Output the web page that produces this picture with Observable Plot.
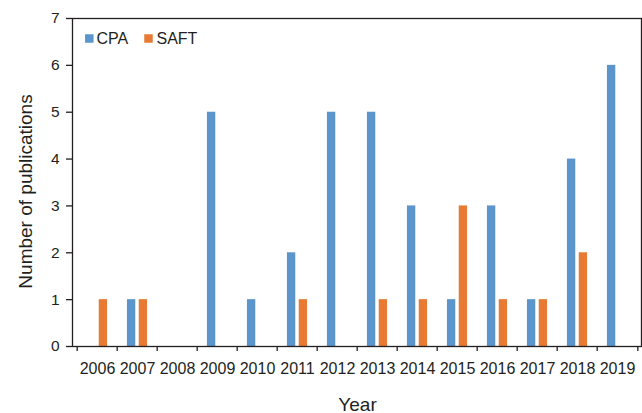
<!DOCTYPE html>
<html>
<head>
<meta charset="utf-8">
<script src="https://cdn.jsdelivr.net/npm/d3@7"></script>
<script src="https://cdn.jsdelivr.net/npm/@observablehq/plot@0.6"></script>
<style>
  html, body { margin: 0; padding: 0; background: #fff; }
  #chart { width: 642px; height: 413px; }
</style>
</head>
<body>
<div id="chart"></div>
<script>
const years = [2006, 2007, 2008, 2009, 2010, 2011, 2012, 2013, 2014, 2015, 2016, 2017, 2018, 2019];
const cpa  = [0, 1, 0, 5, 1, 2, 5, 5, 3, 1, 3, 1, 4, 6];
const saft = [1, 1, 0, 0, 0, 1, 0, 1, 1, 3, 1, 1, 2, 0];
const seriesNames = ["CPA", "SAFT"];
const yTicks = [0, 1, 2, 3, 4, 5, 6, 7];
const xTitle = "Year";
const yTitle = "Number of publications";

const colors = {CPA: "#5b95cb", SAFT: "#e87b33"};
const ink = "#231f20";
const cpaData = years.map((year, i) => ({year, value: cpa[i]}));
const saftData = years.map((year, i) => ({year, value: saft[i]}));

const W = 642, H = 413, mL = 72, mR = 1, mT = 18, mB = 67;
const halfBand = (W - mL - mR) / years.length / 2;

const chart = Plot.plot({
  width: W, height: H,
  marginLeft: mL, marginRight: mR, marginTop: mT, marginBottom: mB,
  style: {fontFamily: "'Liberation Sans', Arial, sans-serif", background: "#fff", color: ink, overflow: "visible"},
  x: {type: "band", domain: years, padding: 0, label: null},
  y: {domain: [0, 7], label: null},
  marks: [
    Plot.barY(cpaData, {x: "year", y: "value", fill: colors.CPA, insetLeft: halfBand - 10.4, insetRight: halfBand + 1.4}),
    Plot.barY(saftData, {x: "year", y: "value", fill: colors.SAFT, insetLeft: halfBand + 1.4, insetRight: halfBand - 10.4}),
    Plot.frame({stroke: ink, strokeWidth: 1.3}),
    Plot.axisY({ticks: yTicks, tickSize: 6, tickPadding: 7, fontSize: 15.5, tickFormat: d => String(d), label: null, stroke: ink, strokeWidth: 1.3, fill: ink}),
    Plot.axisX({tickSize: 0, tickPadding: 16, fontSize: 16, tickFormat: d => String(d), label: null, fill: ink}),
    Plot.axisX({tickSize: 5, tickFormat: () => "", dx: -halfBand, label: null, stroke: ink, strokeWidth: 1.3}),
    Plot.axisX({ticks: [years[years.length - 1]], tickSize: 5, tickFormat: () => "", dx: halfBand, label: null, stroke: ink, strokeWidth: 1.3}),
    Plot.text([yTitle], {frameAnchor: "left", text: d => d, rotate: -90, textAnchor: "middle", lineAnchor: "bottom", dx: -40.5, dy: 9, fontSize: 19, fill: ink}),
    Plot.text([xTitle], {frameAnchor: "bottom", text: d => d, textAnchor: "middle", lineAnchor: "bottom", dy: 64, dx: 0.5, fontSize: 19, fill: ink}),
    // legend
    ...seriesNames.map((name, i) => Plot.dot([name], {frameAnchor: "top-left", symbol: "square", r: 4.8, fill: colors[name], stroke: null, dx: 16.8 + i * 59.2, dy: 20})),
    ...seriesNames.map((name, i) => Plot.text([name], {frameAnchor: "top-left", text: d => d, textAnchor: "start", lineAnchor: "middle", fontSize: 16, fill: ink, dx: 24 + i * 60, dy: 20}))
  ]
});
document.getElementById("chart").appendChild(chart);
</script>
</body>
</html>
